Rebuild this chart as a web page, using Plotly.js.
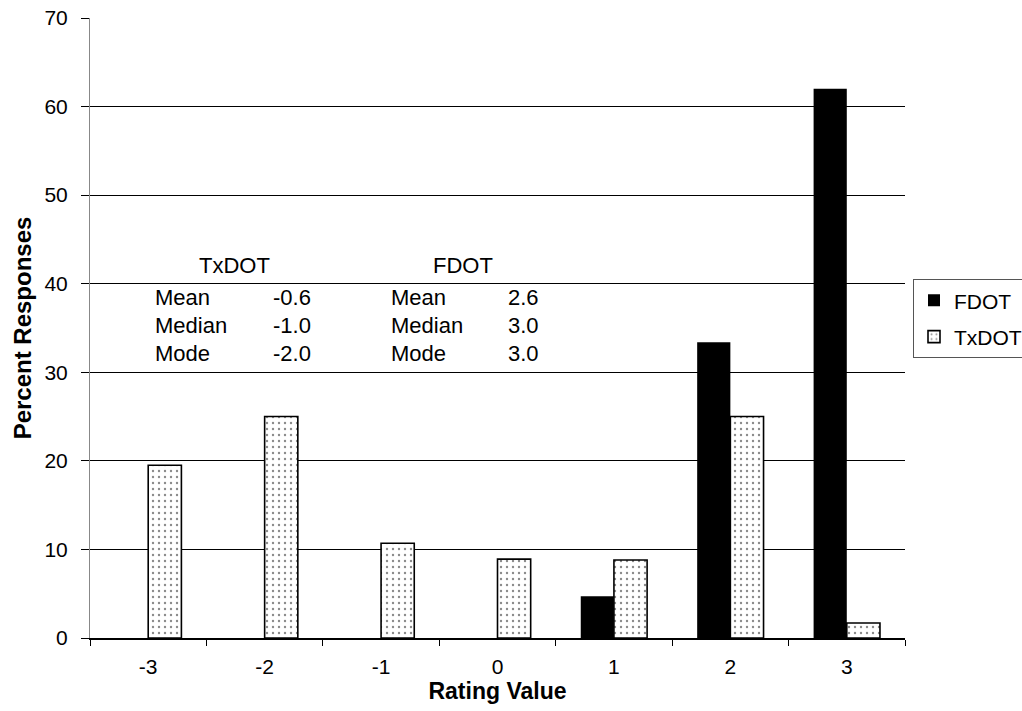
<!DOCTYPE html>
<html>
<head>
<meta charset="utf-8">
<script src="https://cdn.plot.ly/plotly-3.0.1.min.js"></script>
<style>
  html, body { margin: 0; padding: 0; background: #fff; }
  #chart { width: 1022px; height: 711px; }
</style>
</head>
<body>
<div id="chart"></div>
<script>
// Rating scale categories and percent of responses per agency
const ratings = ['-3', '-2', '-1', '0', '1', '2', '3'];
const fdotPct = [0, 0, 0, 0, 4.7, 33.4, 62.0];
const txdotPct = [19.5, 25.0, 10.7, 8.9, 8.8, 25.0, 1.7];

// Summary statistics printed inside the plot
const statNames = ['Mean', 'Median', 'Mode'];
const txdotStats = ['-0.6', '-1.0', '-2.0'];
const fdotStats = ['2.6', '3.0', '3.0'];
const statRowsY = [38.5, 35.3, 32.1];
const headerY = 42.1;

const FONT = 'Arial, "Liberation Sans", sans-serif';

const traces = [
  {
    type: 'bar',
    name: 'FDOT',
    legendgroup: 'f',
    x: ratings,
    y: fdotPct,
    marker: { color: '#000', line: { color: '#000', width: 0 } },
    hoverinfo: 'skip'
  },
  {
    type: 'bar',
    name: 'TxDOT',
    legendgroup: 't',
    x: ratings,
    y: txdotPct,
    marker: {
      color: '#fff',
      line: { color: '#000', width: 1.6 },
      pattern: { shape: '.', fgcolor: '#8a8a8a', bgcolor: '#fff', size: 6, solidity: 0.12 }
    },
    hoverinfo: 'skip'
  }
];

// paper-x helper: pixel column inside the plot area (90..905)
const px = p => (p - 90) / 815;

const annotations = [];
function addText(text, x, y, anchor) {
  annotations.push({
    text: text, xref: 'paper', yref: 'y', x: x, y: y,
    xanchor: anchor, yanchor: 'middle', showarrow: false,
    font: { family: FONT, size: 22, color: '#000' }
  });
}
addText('TxDOT', px(234), headerY, 'center');
addText('FDOT', px(463), headerY, 'center');
statNames.forEach((name, i) => {
  addText(name, px(153), statRowsY[i], 'left');
  addText(txdotStats[i], px(292), statRowsY[i], 'center');
  addText(name, px(389), statRowsY[i], 'left');
  addText(fdotStats[i], px(523), statRowsY[i], 'center');
});

const layout = {
  width: 1022,
  height: 711,
  autosize: false,
  margin: { l: 90, r: 117, t: 18, b: 73, pad: 0, autoexpand: false },
  paper_bgcolor: '#fff',
  plot_bgcolor: '#fff',
  font: { family: FONT, size: 21, color: '#000' },
  barmode: 'group',
  bargap: 0.43,
  bargroupgap: 0,
  showlegend: true,
  legend: {
    x: px(913), y: 0.515, xanchor: 'left', yanchor: 'middle',
    bordercolor: '#555', borderwidth: 1, bgcolor: '#fff',
    font: { family: FONT, size: 21, color: '#000' },
    itemwidth: 30, traceorder: 'grouped', tracegroupgap: 6
  },
  xaxis: {
    type: 'category',
    showline: true, linecolor: '#000', linewidth: 1.5,
    ticks: 'outside', tickson: 'boundaries', ticklen: 6, tickcolor: '#000', tickwidth: 1,
    ticklabelstandoff: 9,
    showgrid: false, zeroline: false,
    tickfont: { family: FONT, size: 21 },
    title: { text: '<b>Rating Value</b>', font: { family: FONT, size: 23 }, standoff: 3 },
    automargin: false
  },
  yaxis: {
    range: [0, 70], dtick: 10,
    showline: true, linecolor: '#888', linewidth: 1,
    ticks: 'outside', ticklen: 8, tickcolor: '#000', tickwidth: 1,
    ticklabelstandoff: 9,
    showgrid: true, gridcolor: '#000', gridwidth: 1.2,
    zeroline: false,
    tickfont: { family: FONT, size: 21 },
    title: { text: '<b>Percent Responses</b>', font: { family: FONT, size: 24 }, standoff: 6 },
    automargin: false
  },
  annotations: annotations
};

Plotly.newPlot('chart', traces, layout, { displayModeBar: false, staticPlot: true });
</script>
</body>
</html>
